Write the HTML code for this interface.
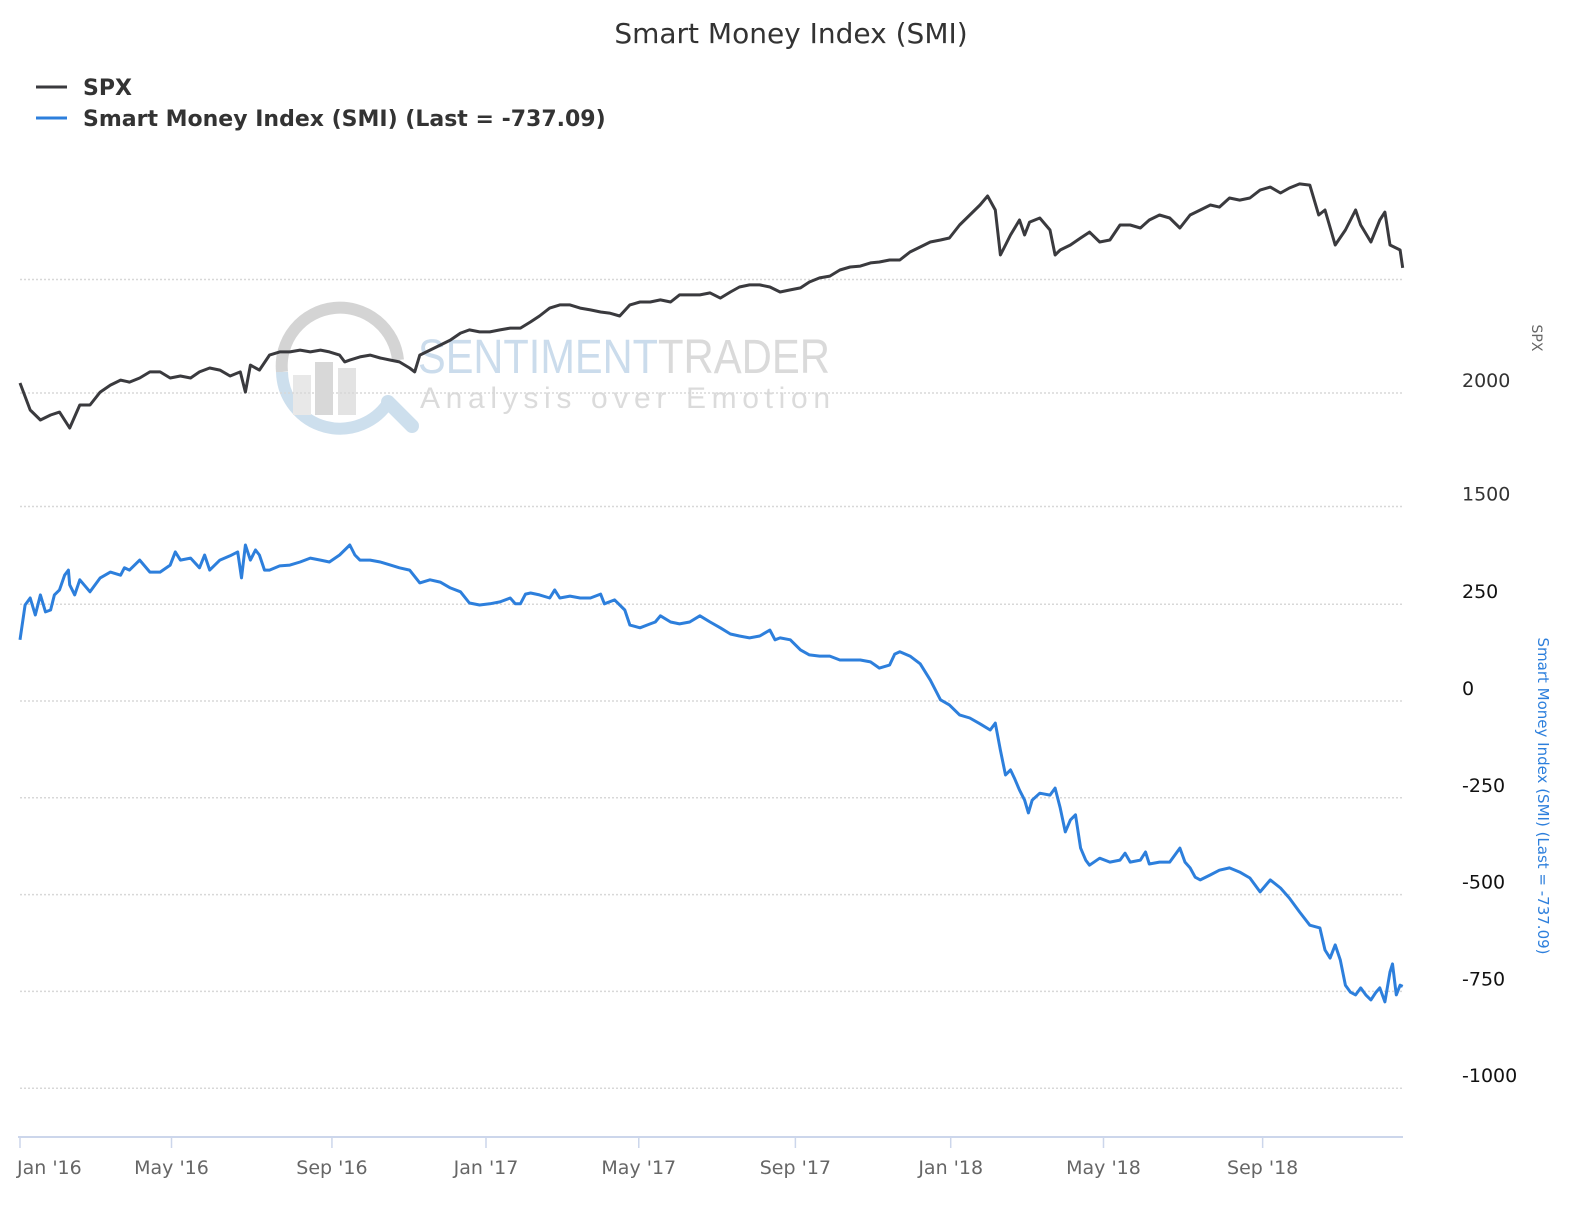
<!DOCTYPE html>
<html><head><meta charset="utf-8">
<style>
html,body{margin:0;padding:0;background:#fff;overflow:hidden;width:1584px;height:1224px;}
svg{display:block;font-family:"DejaVu Sans","Liberation Sans",sans-serif;}
</style></head>
<body>
<svg id="chart" width="1584" height="1224" viewBox="0 0 1584 1224" xmlns="http://www.w3.org/2000/svg">
  <rect width="1584" height="1224" fill="#fff"/>
  <text x="791" y="43" text-anchor="middle" font-size="28" fill="#333">Smart Money Index (SMI)</text>
  <g>
    <g>
      <line x1="36" y1="87" x2="67" y2="87" stroke="#3a3a3e" stroke-width="3"/>
      <text x="83" y="95" font-size="22" font-weight="bold" fill="#333">SPX</text>
    </g>
    <g>
      <line x1="36" y1="118" x2="67" y2="118" stroke="#2d7fdc" stroke-width="3"/>
      <text x="83" y="126" font-size="22" font-weight="bold" fill="#333">Smart Money Index (SMI) (Last = -737.09)</text>
    </g>
  </g>
  <g opacity="0.9">
    <path d="M282,372 A58,58 0 0 1 398,360" fill="none" stroke="#d0d0d0" stroke-width="12"/>
    <path d="M282,372 A58,58 0 0 0 390,400" fill="none" stroke="#c8dcec" stroke-width="12"/>
    <line x1="388" y1="402" x2="412" y2="426" stroke="#c8dcec" stroke-width="14" stroke-linecap="round"/>
    <rect x="293" y="375" width="18" height="40" fill="#e6e6e6"/>
    <rect x="315" y="362" width="18" height="53" fill="#d4d4d4"/>
    <rect x="338" y="368" width="18" height="47" fill="#e0e0e0"/>
    <text x="418" y="373" font-size="48" textLength="240" lengthAdjust="spacingAndGlyphs" fill="#c6d9ea" font-family="Liberation Sans Narrow, Liberation Sans, sans-serif">SENTIMENT</text>
    <text x="658" y="373" font-size="48" textLength="172" lengthAdjust="spacingAndGlyphs" fill="#d6d6d6" font-family="Liberation Sans Narrow, Liberation Sans, sans-serif">TRADER</text>
    <text x="420" y="408" font-size="30" textLength="410" lengthAdjust="spacing" fill="#d8d8d8" font-family="Liberation Sans, sans-serif">Analysis over Emotion</text>
  </g>
  <g id="grid"></g>
  <g id="axes"></g>
  <g id="series"></g>
  <text transform="translate(1532,338) rotate(90)" text-anchor="middle" font-size="14" fill="#666">SPX</text>
  <text transform="translate(1538,796) rotate(90)" text-anchor="middle" font-size="15" fill="#2d7fdc">Smart Money Index (SMI) (Last = -737.09)</text>
</svg>
<script>
const spxDays = [0,8,16,24,31,39,47,55,63,71,79,86,94,102,110,118,126,134,141,149,157,165,173,177,181,188,196,204,212,220,228,236,243,251,255,259,267,275,283,291,298,306,310,314,322,330,338,346,353,361,369,377,385,393,401,408,416,424,432,440,448,456,463,471,479,487,495,503,511,518,526,534,542,550,558,565,573,581,589,597,605,613,620,628,636,644,652,660,668,675,683,691,699,707,715,723,730,738,746,754,760,766,770,774,778,785,789,793,801,809,813,817,825,833,840,848,856,864,872,880,887,895,903,911,919,927,935,942,950,958,966,974,982,990,997,1005,1013,1020,1025,1033,1041,1049,1053,1061,1068,1072,1076,1084,1086];
const spxValues = [2044,1925,1881,1903,1916,1846,1947,1947,2004,2035,2057,2048,2066,2093,2093,2066,2075,2066,2093,2110,2101,2075,2093,2004,2123,2101,2167,2181,2181,2189,2181,2189,2181,2167,2137,2145,2159,2167,2154,2145,2137,2110,2093,2167,2189,2211,2233,2264,2278,2269,2269,2278,2286,2286,2313,2339,2374,2388,2388,2374,2366,2357,2352,2339,2388,2401,2401,2410,2401,2432,2432,2432,2441,2418,2445,2467,2476,2476,2467,2445,2454,2463,2489,2507,2515,2542,2555,2559,2573,2577,2586,2586,2621,2643,2665,2674,2683,2740,2784,2828,2868,2806,2608,2652,2696,2762,2696,2753,2771,2718,2608,2630,2652,2683,2709,2665,2674,2740,2740,2727,2762,2784,2771,2727,2784,2806,2828,2819,2859,2850,2859,2894,2907,2881,2903,2921,2916,2784,2806,2652,2718,2806,2740,2665,2762,2797,2652,2630,2551];
const smiDays = [0,4,8,12,16,20,24,27,31,35,38,39,43,47,55,63,71,79,82,86,94,102,110,118,122,126,134,141,145,149,157,165,171,174,177,181,185,188,192,196,204,212,220,228,236,243,251,255,259,263,267,275,283,291,298,306,314,322,330,338,346,353,361,369,377,385,389,393,397,401,408,416,420,424,432,440,448,456,459,467,475,479,487,495,499,503,511,518,526,534,542,550,558,565,573,581,589,593,597,605,613,620,628,636,644,652,660,668,675,683,687,691,699,707,715,723,730,738,746,754,762,766,770,774,778,781,785,789,792,795,801,809,813,817,821,825,829,833,837,840,848,856,864,868,872,880,884,887,895,903,907,911,915,919,923,927,935,942,950,958,966,974,982,990,997,1005,1013,1021,1025,1029,1033,1037,1041,1045,1049,1053,1057,1061,1065,1068,1072,1076,1078,1081,1084,1086];
const smiValues = [158,248,266,222,274,230,235,274,287,325,338,300,274,313,282,318,333,325,344,338,364,333,333,351,385,364,369,344,377,338,364,375,385,318,403,364,390,377,338,338,349,351,359,369,364,359,377,390,403,377,364,364,359,351,344,338,305,313,307,292,282,253,248,251,256,266,251,251,276,279,274,266,287,266,271,266,266,276,251,261,235,196,189,199,204,220,204,199,204,220,204,189,173,168,163,168,183,158,163,158,132,119,116,116,106,106,106,101,85,93,121,127,116,96,54,3,-10,-36,-44,-59,-75,-57,-127,-191,-178,-199,-230,-256,-289,-256,-238,-243,-225,-276,-338,-307,-294,-380,-411,-424,-406,-416,-411,-393,-416,-411,-390,-421,-416,-416,-398,-380,-416,-431,-455,-462,-449,-437,-431,-442,-457,-493,-462,-483,-509,-545,-579,-586,-643,-664,-630,-669,-734,-752,-759,-741,-759,-772,-752,-741,-777,-700,-679,-759,-734,-737];
const xTickLabels = ["Jan '16","May '16","Sep '16","Jan '17","May '17","Sep '17","Jan '18","May '18","Sep '18"];
const xTickDays = [0,119,245,366,486,609,731,851,976];
const spxTicks = [2500,2000,1500];
const spxTickLabels = ["","2000","1500"];
const smiTicks = [250,0,-250,-500,-750,-1000];
const smiTickLabels = ["250","0","-250","-500","-750","-1000"];

const NS = "http://www.w3.org/2000/svg";
const X0 = 20, X1 = 1403, DAYPX = 1.2732;
const xScale = d => X0 + d * DAYPX;
const ySpx = v => 393 - (v - 2000) * 113.5 / 500;
const ySmi = v => 701 - v * 96.8 / 250;
function mk(tag, attrs, parent) {
  const e = document.createElementNS(NS, tag);
  for (const k in attrs) e.setAttribute(k, attrs[k]);
  parent.appendChild(e);
  return e;
}
const grid = document.getElementById('grid');
const axes = document.getElementById('axes');
const series = document.getElementById('series');

spxTicks.forEach((t, i) => {
  const y = ySpx(t);
  const g = mk('line', {x1: X0, x2: X1, y1: y, y2: y, stroke: '#d8d8d8', 'stroke-width': 1.5, 'stroke-dasharray': '2,2'}, grid);
  
  
  if (spxTickLabels[i]) {
    const tx = mk('text', {x: 1462, y: y - 6, 'font-size': 19, fill: '#333'}, axes);
    tx.textContent = spxTickLabels[i];
    
    
  }
});
smiTicks.forEach((t, i) => {
  const y = ySmi(t);
  const g = mk('line', {x1: X0, x2: X1, y1: y, y2: y, stroke: '#d8d8d8', 'stroke-width': 1.5, 'stroke-dasharray': '2,2'}, grid);
  
  
  const tx = mk('text', {x: 1462, y: y - 6, 'font-size': 19, fill: '#111'}, axes);
  tx.textContent = smiTickLabels[i];
  
  
});
const axl = mk('line', {x1: X0 - 2, x2: X1, y1: 1137, y2: 1137, stroke: '#ccd6eb', 'stroke-width': 2}, axes);


xTickDays.forEach((d, i) => {
  const x = xScale(d);
  const tk = mk('line', {x1: x, x2: x, y1: 1137, y2: 1148, stroke: '#ccd6eb', 'stroke-width': 1.5}, axes);
  
  
  const tx = mk('text', {x: x, y: 1174, 'font-size': 19, fill: '#666', 'text-anchor': i === 0 ? 'start' : 'middle'}, axes);
  if (i === 0) tx.setAttribute('x', x - 3);
  tx.textContent = xTickLabels[i];
  
  
});
function linePath(days, vals, ys) {
  return days.map((d, i) => (i ? 'L' : 'M') + xScale(d).toFixed(1) + ',' + ys(vals[i]).toFixed(1)).join('');
}
const p1 = mk('path', {d: linePath(spxDays, spxValues, ySpx), fill: 'none', stroke: '#3a3a3e', 'stroke-width': 3, 'stroke-linejoin': 'round'}, series);


const p2 = mk('path', {d: linePath(smiDays, smiValues, ySmi), fill: 'none', stroke: '#2d7fdc', 'stroke-width': 3, 'stroke-linejoin': 'round'}, series);


</script>
</body></html>
